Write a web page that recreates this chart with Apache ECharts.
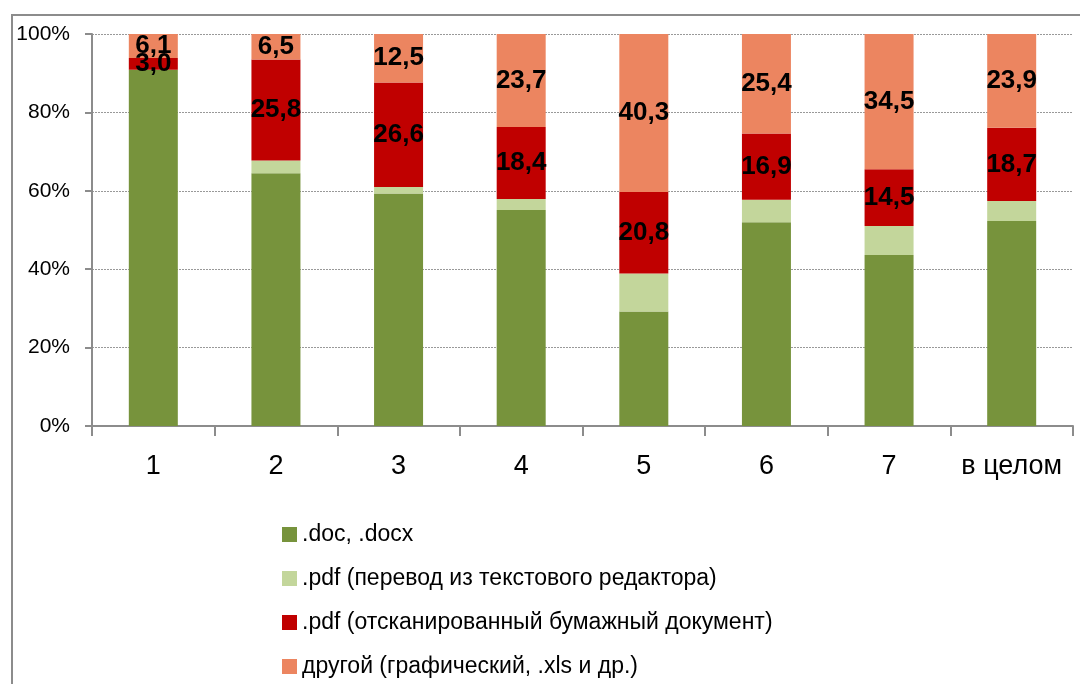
<!DOCTYPE html>
<html>
<head>
<meta charset="utf-8">
<script src="https://cdn.jsdelivr.net/npm/echarts@6/dist/echarts.min.js"></script>
<style>html,body{margin:0;padding:0;background:#fff;}#c{width:1080px;height:684px;}</style>
</head>
<body>
<div id="c"></div>
<script>
var categories = ['1', '2', '3', '4', '5', '6', '7', 'в целом'];
var seriesNames = ['.doc, .docx', '.pdf (перевод из текстового редактора)', '.pdf (отсканированный бумажный документ)', 'другой (графический, .xls и др.)'];
var docValues = [90.9, 64.5, 59.3, 55.1, 29.2, 52.0, 43.6, 52.3];
var pdfTextValues = [0.0, 3.2, 1.7, 2.8, 9.7, 5.7, 7.4, 5.1];
var pdfScanValues = [3.0, 25.8, 26.6, 18.4, 20.8, 16.9, 14.5, 18.7];
var otherValues = [6.1, 6.5, 12.5, 23.7, 40.3, 25.4, 34.5, 23.9];
var yTicks = [0, 20, 40, 60, 80, 100];

var colors = ['#77933C', '#C3D69B', '#C00000', '#EC8560'];
var FONT = '"Liberation Sans", Arial, sans-serif';
var chart = echarts.init(document.getElementById('c'));

function mkSeries(name, data, color, showLabel) {
  return {
    name: name, type: 'bar', stack: 'total', data: data, barWidth: 49,
    itemStyle: { color: color },
    label: {
      show: showLabel, position: 'inside', color: '#000', fontWeight: 'bold',
      fontSize: 26, fontFamily: FONT,
      formatter: function (p) { return p.value.toFixed(1).replace('.', ','); }
    },
    emphasis: { disabled: true }
  };
}

chart.setOption({
  animation: false,
  backgroundColor: '#fff',
  textStyle: { fontFamily: FONT },
  graphic: [{
    type: 'rect', silent: true, z: -1,
    shape: { x: 12, y: 15, width: 1100, height: 700 },
    style: { fill: 'none', stroke: '#8c8c8c', lineWidth: 2 }
  }],
  grid: { left: 92, right: 7, top: 34, bottom: 258, containLabel: false },
  legend: {
    orient: 'vertical', left: 277, top: 518, height: 200, width: 700,
    itemWidth: 15, itemHeight: 15, itemGap: 21,
    icon: 'rect',
    textStyle: { fontSize: 23, color: '#000', fontFamily: FONT },
    data: seriesNames
  },
  xAxis: {
    type: 'category', data: categories,
    axisLine: { lineStyle: { color: '#8c8c8c', width: 2 } },
    axisTick: { show: true, length: 10, lineStyle: { color: '#8c8c8c', width: 2 } },
    axisLabel: { fontSize: 27, color: '#000', margin: 27, fontFamily: FONT, interval: 0 }
  },
  yAxis: {
    type: 'value', min: yTicks[0], max: yTicks[yTicks.length - 1], interval: 20,
    axisLine: { show: true, lineStyle: { color: '#8c8c8c', width: 2 } },
    axisTick: { show: true, length: 7, lineStyle: { color: '#8c8c8c', width: 2 } },
    axisLabel: { fontSize: 21, color: '#000', margin: 22, fontFamily: FONT, formatter: '{value}%' },
    splitLine: { show: true, lineStyle: { color: '#999', type: [2, 1], width: 1 } }
  },
  series: [
    mkSeries(seriesNames[0], docValues, colors[0], false),
    mkSeries(seriesNames[1], pdfTextValues, colors[1], false),
    mkSeries(seriesNames[2], pdfScanValues, colors[2], true),
    mkSeries(seriesNames[3], otherValues, colors[3], true)
  ]
});
</script>
</body>
</html>
